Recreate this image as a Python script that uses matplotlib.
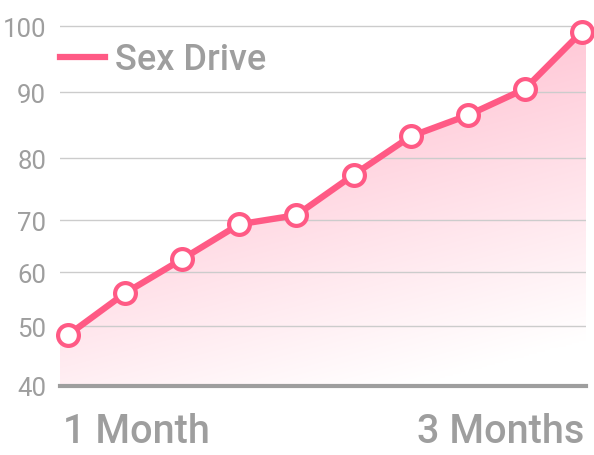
import numpy as np
import matplotlib
matplotlib.use("Agg")
import matplotlib.pyplot as plt
from matplotlib.patches import Polygon
from matplotlib.lines import Line2D

# ---- data ----
x_vals = list(range(10))
sex_drive = [48.5, 56.1, 62.5, 69.2, 70.8, 77.3, 83.3, 86.5, 90.5, 99.2]
y_ticks = [40, 50, 60, 70, 80, 90, 100]
x_labels = ["1 Month", "3 Months"]
series_name = "Sex Drive"

# non-uniform visual scale of the reference (value knots -> screen knots)
knot_vals = np.array([30, 40, 50, 60, 70, 80, 90, 100, 110], dtype=float)
knot_pos = np.array([-60, 0, 60, 114, 166, 228, 294, 360, 426], dtype=float)

def fwd(v):
    return np.interp(v, knot_vals, knot_pos)

def inv(p):
    return np.interp(p, knot_pos, knot_vals)

plt.rcParams['font.family'] = ['Roboto', 'DejaVu Sans']
GRAY = '#9e9e9e'
PINK = '#ff5a85'

W, H = 594, 456
fig = plt.figure(figsize=(W / 100, H / 100), dpi=100)
ax = fig.add_axes([60 / W, 1 - 387 / H, (586 - 60) / W, (387 - 20) / H])
ax.set_yscale('function', functions=(fwd, inv))
ax.set_xlim(-0.14, 9.07)
ax.set_ylim(40, 101.1)

for s in ['top', 'right', 'left']:
    ax.spines[s].set_visible(False)
ax.spines['bottom'].set_color(GRAY)
ax.spines['bottom'].set_linewidth(3)
ax.spines['bottom'].set_zorder(6)

ax.set_yticks(y_ticks)
ax.set_yticklabels([str(t) for t in y_ticks])
ax.tick_params(axis='y', length=0, pad=10, labelsize=18.5, labelcolor=GRAY)
ax.set_xticks([])
ax.grid(axis='y', color='#cccccc', linewidth=1, zorder=3)
ax.set_axisbelow(False)

# gradient fill under the line
x0, x1 = ax.get_xlim()
xs_fill = [x0] + x_vals + [x1]
ys_fill = [sex_drive[0]] + sex_drive + [sex_drive[-1]]
poly_pts = list(zip(xs_fill, ys_fill)) + [(x1, 40), (x0, 40)]
poly = Polygon(poly_pts, closed=True, facecolor='none', edgecolor='none',
               transform=ax.transData)
ax.add_patch(poly)

ny, nx = 200, 200
yy, xx = np.mgrid[0:1:ny * 1j, 0:1:nx * 1j]  # yy: 0 top -> 1 bottom
strength = 1 - (0.8 * yy + 0.3 * xx)
strength = np.clip(strength, 0, 1)
top = np.array([255, 175, 196]) / 255.0
img = np.ones((ny, nx, 3)) * (1 - strength[..., None]) + top * strength[..., None]
im = ax.imshow(img, extent=[0, 1, 0, 1], transform=ax.transAxes,
               aspect='auto', zorder=1, interpolation='bilinear')
im.set_clip_path(poly)

ax.plot(x_vals, sex_drive, color=PINK, linewidth=4.6, zorder=5,
        marker='o', markersize=15, markerfacecolor='white',
        markeredgecolor=PINK, markeredgewidth=3, clip_on=False,
        solid_capstyle='round')

# legend (manual)
fig.add_artist(Line2D([60 / W, 105 / W], [1 - 58 / H, 1 - 58 / H],
                      color=PINK, linewidth=4.5, transform=fig.transFigure))
fig.text(115 / W, 1 - 60 / H, series_name, color=GRAY, fontsize=26,
         fontweight='medium', va='center', ha='left')

# x labels at the ends
fig.text(63 / W, 1 - 432 / H, x_labels[0], color=GRAY, fontsize=28.5,
         fontweight='medium', va='center', ha='left')
fig.text(584 / W, 1 - 432 / H, x_labels[1], color=GRAY, fontsize=28.5,
         fontweight='medium', va='center', ha='right')

fig.savefig('out.png', dpi=100)
